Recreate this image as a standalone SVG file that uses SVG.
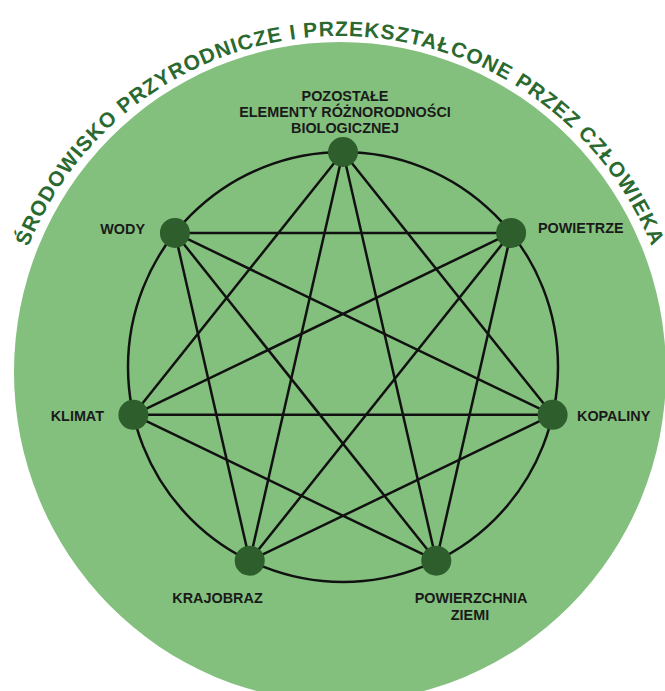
<svg xmlns="http://www.w3.org/2000/svg" width="665" height="691" viewBox="0 0 665 691">
<style>
.bg{fill:#83c07d}
.ring{fill:none;stroke:#111;stroke-width:2.5}
.edge{stroke:#111;stroke-width:2.5;fill:none}
.node{fill:#2d5e2c}
.lbl{font-family:"Liberation Sans",Arial,sans-serif;font-weight:bold;font-size:14.4px;fill:#1a1a1a}
.title{font-family:"Liberation Sans",Arial,sans-serif;font-weight:bold;font-size:21px;fill:#2a6a30;letter-spacing:1px}
</style>
<defs>
<path id="arc" d="M 4,372 A 336 336 0 0 1 676,372"/>
</defs>
<rect width="665" height="691" fill="#ffffff"/>
<ellipse class="bg" cx="340" cy="372" rx="326" ry="330"/>
<text class="title" text-anchor="middle"><textPath href="#arc" startOffset="50%">ŚRODOWISKO PRZYRODNICZE I PRZEKSZTAŁCONE PRZEZ CZŁOWIEKA</textPath></text>
<g id="connectors">
<circle class="ring" cx="343" cy="367" r="215"/>
<line class="edge" x1="343" y1="152" x2="552.61" y2="414.84"/>
<line class="edge" x1="511.09" y1="232.95" x2="436.28" y2="560.71"/>
<line class="edge" x1="552.61" y1="414.84" x2="249.72" y2="560.71"/>
<line class="edge" x1="436.28" y1="560.71" x2="133.39" y2="414.84"/>
<line class="edge" x1="249.72" y1="560.71" x2="174.91" y2="232.95"/>
<line class="edge" x1="133.39" y1="414.84" x2="343" y2="152"/>
<line class="edge" x1="174.91" y1="232.95" x2="511.09" y2="232.95"/>
<line class="edge" x1="343" y1="152" x2="436.28" y2="560.71"/>
<line class="edge" x1="511.09" y1="232.95" x2="249.72" y2="560.71"/>
<line class="edge" x1="552.61" y1="414.84" x2="133.39" y2="414.84"/>
<line class="edge" x1="436.28" y1="560.71" x2="174.91" y2="232.95"/>
<line class="edge" x1="249.72" y1="560.71" x2="343" y2="152"/>
<line class="edge" x1="133.39" y1="414.84" x2="511.09" y2="232.95"/>
<line class="edge" x1="174.91" y1="232.95" x2="552.61" y2="414.84"/>
</g>
<g id="n-pozostale">
<circle class="node" cx="343" cy="152" r="15"/>
<text class="lbl" text-anchor="middle"><tspan x="345" y="101">POZOSTAŁE</tspan><tspan x="345" y="117">ELEMENTY RÓŻNORODNOŚCI</tspan><tspan x="345" y="133">BIOLOGICZNEJ</tspan></text>
</g>
<g id="n-powietrze">
<circle class="node" cx="511.09" cy="232.95" r="15"/>
<text class="lbl" x="538" y="233">POWIETRZE</text>
</g>
<g id="n-kopaliny">
<circle class="node" cx="552.61" cy="414.84" r="15"/>
<text class="lbl" x="577" y="421">KOPALINY</text>
</g>
<g id="n-powierzchnia">
<circle class="node" cx="436.28" cy="560.71" r="15"/>
<text class="lbl" text-anchor="middle"><tspan x="471" y="603">POWIERZCHNIA</tspan><tspan x="470" y="620">ZIEMI</tspan></text>
</g>
<g id="n-krajobraz">
<circle class="node" cx="249.72" cy="560.71" r="15"/>
<text class="lbl" x="217.5" y="603" text-anchor="middle">KRAJOBRAZ</text>
</g>
<g id="n-klimat">
<circle class="node" cx="133.39" cy="414.84" r="15"/>
<text class="lbl" x="104" y="421" text-anchor="end">KLIMAT</text>
</g>
<g id="n-wody">
<circle class="node" cx="174.91" cy="232.95" r="15"/>
<text class="lbl" x="145" y="234" text-anchor="end">WODY</text>
</g>
</svg>
